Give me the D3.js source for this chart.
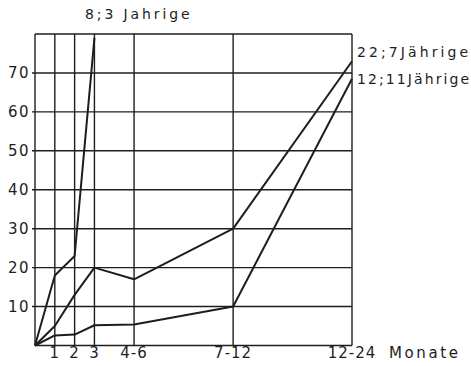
<!DOCTYPE html>
<html>
<head>
<meta charset="utf-8">
<script src="https://cdn.jsdelivr.net/npm/d3@7"></script>
<style>
  body { margin: 0; background: #fff; }
  text { font-family: "DejaVu Sans", sans-serif; fill: #1e1e1e; }
</style>
</head>
<body>
<div id="chart"></div>
<script>
// Content
const categories = ["", "1", "2", "3", "4-6", "7-12", "12-24"];
const catPos = [0, 1, 2, 3, 5, 10, 16]; // spacing of the month columns
const yTicks = [10, 20, 30, 40, 50, 60, 70];
const series8 = [0, 18, 23, 79];
const series22 = [0, 5, 13, 20, 17, 30, 73];
const series12 = [0, 2.6, 2.8, 5.2, 5.4, 10, 68.5];
const label8 = "8;3 Jahrige";
const label22 = "22;7Jährige";
const label12 = "12;11Jährige";
const xTitle = "Monate";

// Sizing
const svgWidth = 471, svgHeight = 366;
const plotLeft = 35, plotRight = 352, plotTop = 34, plotBottom = 345.5;
const ink = "#1e1e1e";

const svg = d3.select("#chart").append("svg")
  .attr("width", svgWidth)
  .attr("height", svgHeight);

const x = d3.scaleLinear().domain([0, 16]).range([plotLeft, plotRight]);
const y = d3.scaleLinear().domain([0, 80]).range([plotBottom, plotTop]);

/** grid */
const grid = svg.append("g").attr("stroke", ink).attr("stroke-width", 1.4);
grid.selectAll(".h")
  .data(d3.range(0, 90, 10))
  .enter().append("line")
  .attr("x1", d => (d > 0 && d < 80) ? plotLeft - 3 : plotLeft)
  .attr("x2", plotRight)
  .attr("y1", d => y(d))
  .attr("y2", d => y(d));
grid.selectAll(".v")
  .data(catPos)
  .enter().append("line")
  .attr("x1", d => x(d))
  .attr("x2", d => x(d))
  .attr("y1", y(0))
  .attr("y2", y(80));

/** y labels */
svg.append("g").selectAll("text")
  .data(yTicks)
  .enter().append("text")
  .attr("x", plotLeft - 5)
  .attr("y", d => y(d))
  .attr("dy", "0.36em")
  .attr("text-anchor", "end")
  .style("font-size", "15px")
  .style("letter-spacing", "1.5px")
  .text(d => d);

/** x labels */
svg.append("g").selectAll("text")
  .data(categories.map((c, i) => ({ c: c, p: catPos[i] })).filter(d => d.c))
  .enter().append("text")
  .attr("x", d => x(d.p))
  .attr("y", 358)
  .attr("text-anchor", "middle")
  .style("font-size", "15px")
  .style("letter-spacing", "1px")
  .text(d => d.c);

svg.append("text")
  .attr("x", 389)
  .attr("y", 358)
  .style("font-size", "15px")
  .style("letter-spacing", "2.6px")
  .text(xTitle);

/** lines */
const line = d3.line()
  .x((d, i) => x(catPos[i]))
  .y(d => y(d));

svg.append("g").selectAll("path")
  .data([series8, series22, series12])
  .enter().append("path")
  .attr("d", line)
  .attr("fill", "none")
  .attr("stroke", ink)
  .attr("stroke-width", 2)
  .attr("stroke-linejoin", "round");

/** series labels */
svg.append("text")
  .attr("x", 85)
  .attr("y", 19)
  .style("font-size", "14px")
  .style("letter-spacing", "2.9px")
  .text(label8);

svg.append("text")
  .attr("x", 357)
  .attr("y", 57)
  .style("font-size", "14px")
  .style("letter-spacing", "3.1px")
  .text(label22);

svg.append("text")
  .attr("x", 357)
  .attr("y", 84)
  .style("font-size", "14px")
  .style("letter-spacing", "2.1px")
  .text(label12);
</script>
</body>
</html>
